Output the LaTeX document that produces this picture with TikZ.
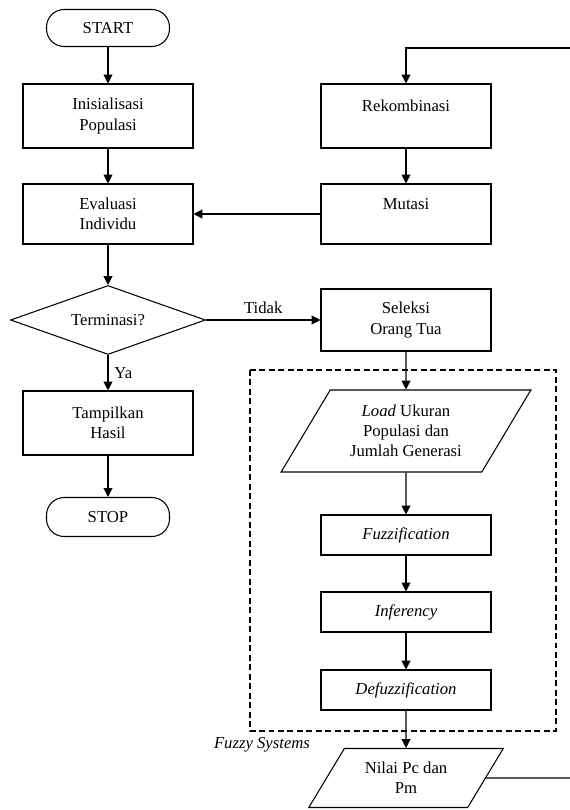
\documentclass[tikz,border=0pt]{standalone}
\usepackage{fontspec}
\setmainfont{Liberation Serif}
\usetikzlibrary{shapes.geometric,arrows.meta}
\begin{document}
\begin{tikzpicture}[
  x=0.02cm, y=-0.02cm,
  every node/.style={font=\fontsize{9.5}{11.5}\selectfont},
  proc/.style={rectangle, draw, minimum width=3.4cm, minimum height=1.2cm, align=center, inner sep=2pt},
  small/.style={proc, minimum height=0.8cm},
  term/.style={rectangle, draw, rounded corners=10pt, minimum width=2.46cm, minimum height=0.74cm},
  dec/.style={diamond, draw, aspect=2.8, minimum width=3.9cm, minimum height=1.38cm, inner sep=0pt},
  io/.style={trapezium, draw, trapezium left angle=58, trapezium right angle=122, trapezium stretches=true, align=center},
  flow/.style={-{Triangle[length=5pt,width=5pt]}},
  line width=0.6pt
]
  \useasboundingbox (0,0) rectangle (570,810);

  % kolom kiri
  \node[term] (start) at (108,28) {START};
  \node[proc, minimum height=1.28cm] (init) at (108,116) {Inisialisasi\\Populasi};
  \node[proc] (eval) at (108,214) {Evaluasi\\Individu};
  \node[dec] (cek) at (108,320) {Terminasi?};
  \node[proc, minimum height=1.28cm] (hasil) at (108,423) {Tampilkan\\Hasil};
  \node[term, minimum height=0.78cm] (stop) at (108,517) {STOP};

  % kolom kanan
  \node[proc, minimum height=1.28cm] (rekom) at (406,116) {Rekombinasi\\\mbox{}};
  \node[proc] (mutasi) at (406,214) {Mutasi\\\mbox{}};
  \node[proc, minimum height=1.24cm] (seleksi) at (406,320) {Seleksi\\Orang Tua};
  \node[io, minimum width=5cm, minimum height=1.64cm] (load) at (406,431) {\textit{Load} Ukuran\\Populasi dan\\Jumlah Generasi};
  \node[small] (fuzz) at (406,535) {\textit{Fuzzification}};
  \node[small] (infer) at (406,612) {\textit{Inferency}};
  \node[small] (defuzz) at (406,690) {\textit{Defuzzification}};
  \node[io, minimum width=3.9cm, minimum height=1.18cm] (nilai) at (406,778) {Nilai Pc dan\\Pm};

  % fuzzy systems
  \draw[dash pattern=on 3.4pt off 2pt] (250,370) rectangle (556,731);
  \node[font=\fontsize{9.5}{11.5}\selectfont\itshape] (fuzzylbl) at (262,745) {Fuzzy Systems};

  \coordinate (kembali) at (570,48);
  \coordinate (keluar) at (570,778);

  \foreach \a/\b in {start/init, init/eval, eval/cek, hasil/stop, rekom/mutasi,
                     seleksi/load, load/fuzz, fuzz/infer, infer/defuzz, defuzz/nilai} {
    \draw[flow] (\a) -- (\b);
  }
  \draw[flow] (cek) -- node[right] {Ya} (hasil);
  \draw[flow] (cek.east) -- node[above] {Tidak} (seleksi.west);
  \draw[flow] (mutasi) -- (eval);
  \draw[flow] (kembali) -| (rekom);
  \draw (nilai.east) -- (keluar);
\end{tikzpicture}
\end{document}
